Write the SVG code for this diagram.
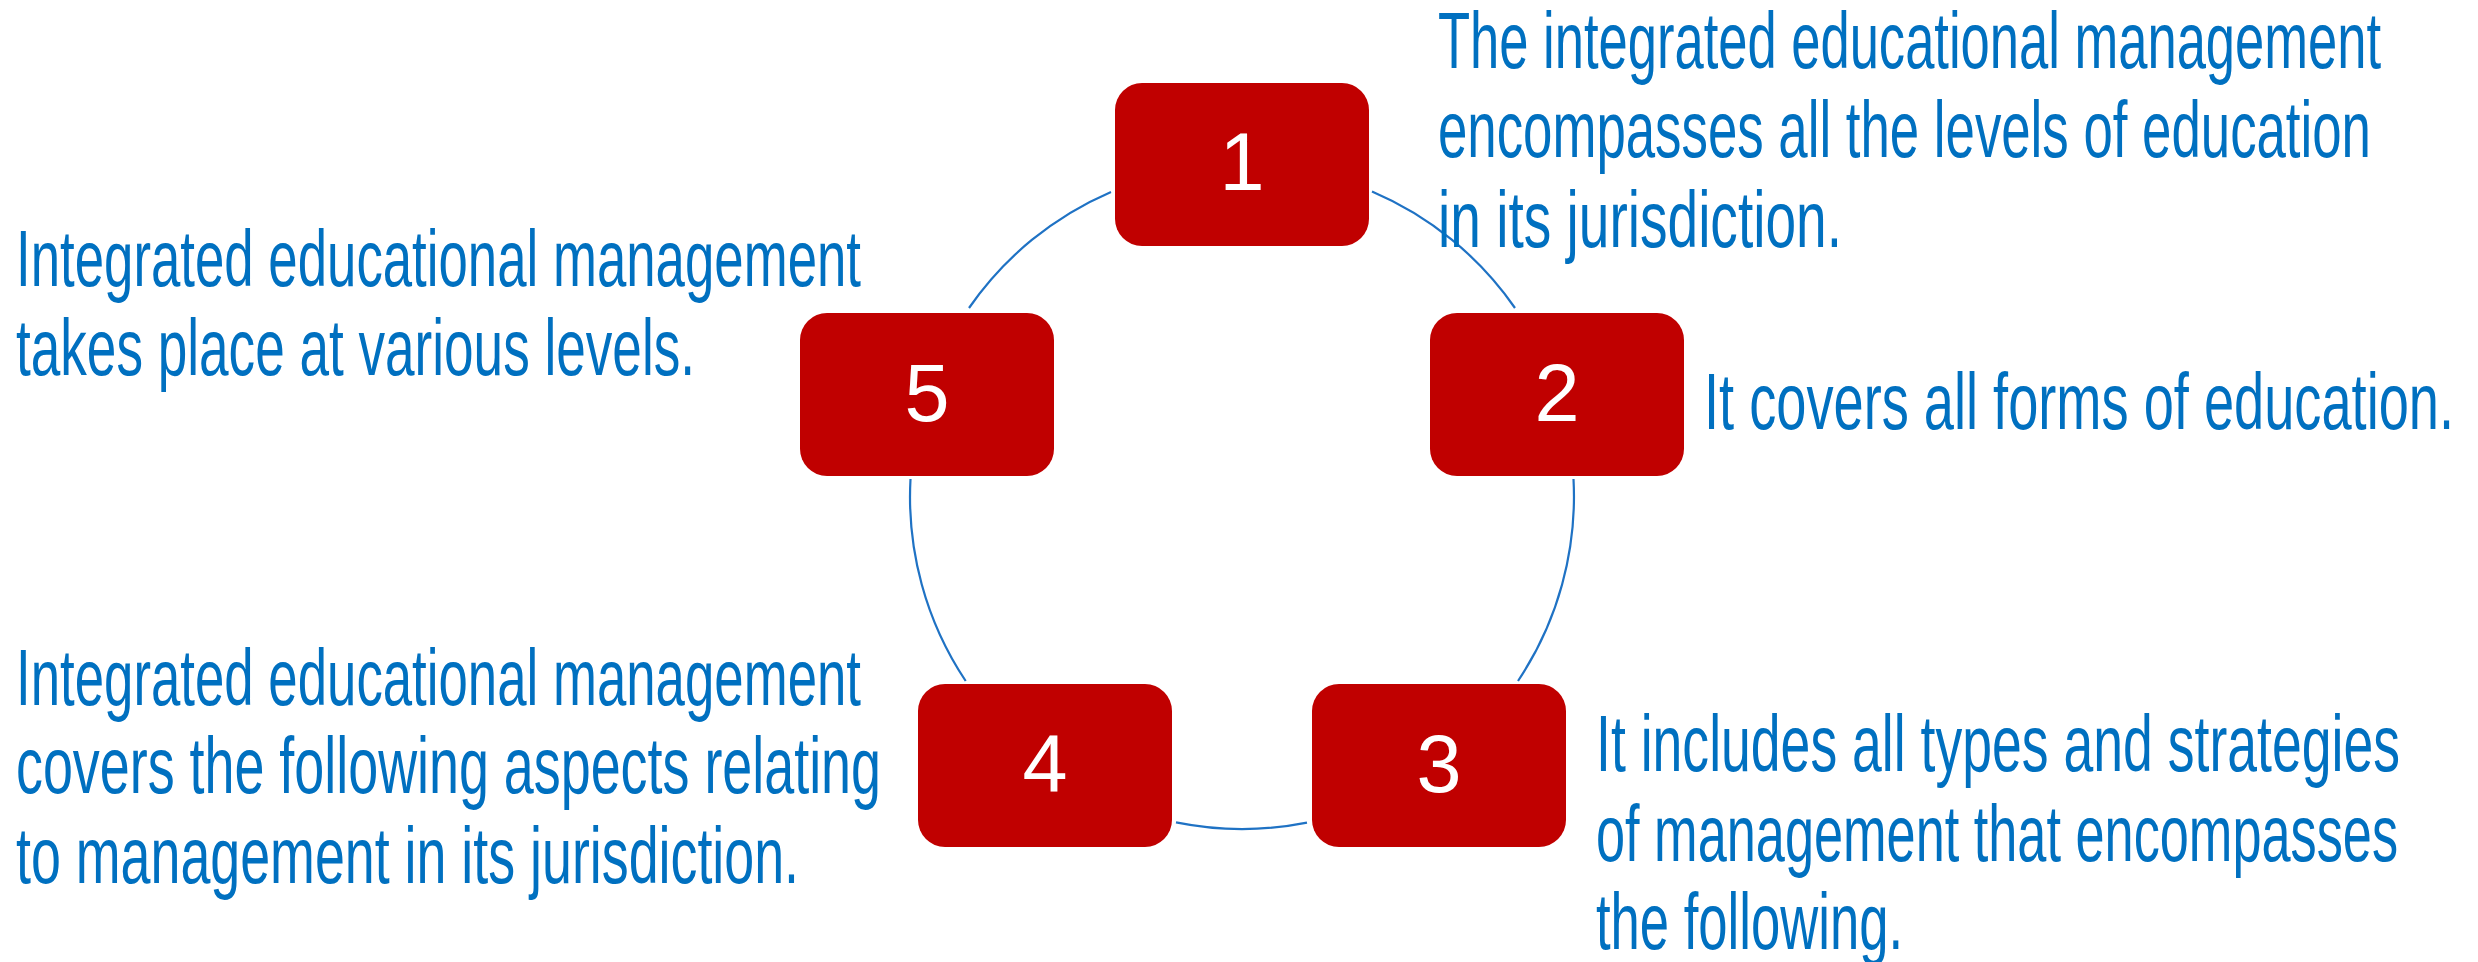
<svg xmlns="http://www.w3.org/2000/svg" width="2478" height="962" viewBox="0 0 2478 962">
<style>
.box{fill:#C00000;}
.num{font-family:"Liberation Sans",Arial,sans-serif;font-size:81px;fill:#FFFFFF;text-anchor:middle;}
.lbl{font-family:"Liberation Sans",Arial,sans-serif;font-size:80px;fill:#0070C0;}
.arc{fill:none;stroke:#1F72C4;stroke-width:2.2;}
</style>
<rect width="2478" height="962" fill="#FFFFFF"/>
<g id="connectors">
<path class="arc" d="M1372,191.5 A332,332 0 0 1 1515,308"/>
<path class="arc" d="M1573.5,479 A332,332 0 0 1 1518,681"/>
<path class="arc" d="M1307,822.6 A332,332 0 0 1 1176,822.4"/>
<path class="arc" d="M965.7,681 A332,332 0 0 1 910.5,479"/>
<path class="arc" d="M969,308 A332,332 0 0 1 1111,191.9"/>
</g>
<g id="node1">
<rect class="box" x="1115" y="83" width="254" height="163" rx="27"/>
<text class="num" x="1242" y="190">1</text>
<text class="lbl" transform="translate(1438,68) scale(0.66,1)" textLength="1428.8" lengthAdjust="spacingAndGlyphs">The integrated educational management</text>
<text class="lbl" transform="translate(1438,157) scale(0.66,1)" textLength="1413.6" lengthAdjust="spacingAndGlyphs">encompasses all the levels of education</text>
<text class="lbl" transform="translate(1438,247) scale(0.66,1)" textLength="612.1" lengthAdjust="spacingAndGlyphs">in its jurisdiction.</text>
</g>
<g id="node2">
<rect class="box" x="1430" y="313" width="254" height="163" rx="27"/>
<text class="num" x="1557" y="421">2</text>
<text class="lbl" transform="translate(1704,429) scale(0.66,1)" textLength="1136.4" lengthAdjust="spacingAndGlyphs">It covers all forms of education.</text>
</g>
<g id="node3">
<rect class="box" x="1312" y="684" width="254" height="163" rx="27"/>
<text class="num" x="1439" y="792">3</text>
<text class="lbl" transform="translate(1596,771) scale(0.66,1)" textLength="1218.2" lengthAdjust="spacingAndGlyphs">It includes all types and strategies</text>
<text class="lbl" transform="translate(1596,861) scale(0.66,1)" textLength="1215.2" lengthAdjust="spacingAndGlyphs">of management that encompasses</text>
<text class="lbl" transform="translate(1596,949) scale(0.66,1)" textLength="465.2" lengthAdjust="spacingAndGlyphs">the following.</text>
</g>
<g id="node4">
<rect class="box" x="918" y="684" width="254" height="163" rx="27"/>
<text class="num" x="1045" y="792">4</text>
<text class="lbl" transform="translate(16,705) scale(0.66,1)" textLength="1280.3" lengthAdjust="spacingAndGlyphs">Integrated educational management</text>
<text class="lbl" transform="translate(16,793) scale(0.66,1)" textLength="1310.6" lengthAdjust="spacingAndGlyphs">covers the following aspects relating</text>
<text class="lbl" transform="translate(16,883) scale(0.66,1)" textLength="1186.4" lengthAdjust="spacingAndGlyphs">to management in its jurisdiction.</text>
</g>
<g id="node5">
<rect class="box" x="800" y="313" width="254" height="163" rx="27"/>
<text class="num" x="927" y="421">5</text>
<text class="lbl" transform="translate(16,286) scale(0.66,1)" textLength="1280.3" lengthAdjust="spacingAndGlyphs">Integrated educational management</text>
<text class="lbl" transform="translate(16,375) scale(0.66,1)" textLength="1028.8" lengthAdjust="spacingAndGlyphs">takes place at various levels.</text>
</g>
</svg>
